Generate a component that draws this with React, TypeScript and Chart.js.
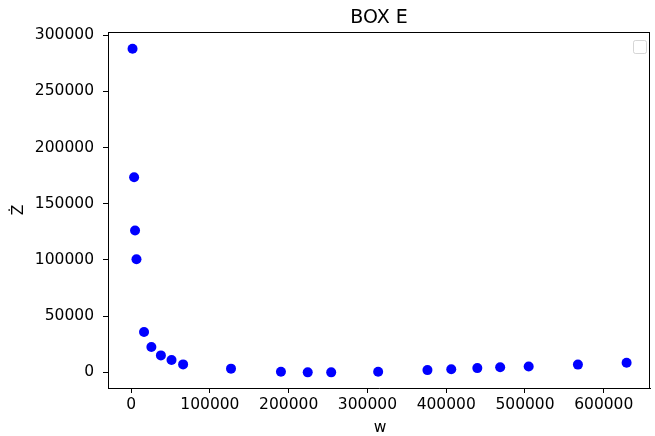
import React, { useEffect, useRef } from "react";
import { Chart, registerables } from "chart.js";

Chart.register(...registerables);

const titleText = "BOX E";
const xLabel = "w";
const yLabel = "Ż";

const wValues = [1800, 3800, 5000, 6800, 16400, 25700, 37800, 51300, 66000, 126800, 190200, 224200, 254000, 313600, 376200, 406400, 439500, 468500, 504700, 567200, 629000];
const zValues = [287800, 173600, 126100, 100600, 35900, 22500, 15100, 11000, 7100, 3300, 600, 0, 0, 600, 2000, 2700, 3800, 4500, 5300, 6900, 8600];

const xTicks = [0, 100000, 200000, 300000, 400000, 500000, 600000];
const yTicks = [0, 50000, 100000, 150000, 200000, 250000, 300000];

const FONT = "DejaVu Sans";

const decorPlugin = {
  id: "decor",
  afterDraw(chart: any) {
    const { ctx, chartArea } = chart;
    const { left, right, top, bottom } = chartArea;
    ctx.save();
    // top & right spines
    ctx.strokeStyle = "#000";
    ctx.lineWidth = 1;
    ctx.beginPath();
    ctx.moveTo(left, top + 0.5);
    ctx.lineTo(right, top + 0.5);
    ctx.moveTo(right - 0.5, top);
    ctx.lineTo(right - 0.5, bottom);
    ctx.stroke();
    // title
    ctx.fillStyle = "#000";
    ctx.font = `19px "${FONT}"`;
    ctx.textAlign = "center";
    ctx.textBaseline = "alphabetic";
    ctx.fillText(titleText, (left + right) / 2, 23);
    // x label
    ctx.font = `15.5px "${FONT}"`;
    ctx.fillText(xLabel, (left + right) / 2 + 1, 432);
    // empty legend frame
    const bx = 633.5, by = 40.5, bw = 13, bh = 13, r = 2;
    ctx.strokeStyle = "rgba(204,204,204,0.8)";
    ctx.fillStyle = "rgba(255,255,255,0.8)";
    ctx.beginPath();
    ctx.moveTo(bx + r, by);
    ctx.lineTo(bx + bw - r, by);
    ctx.quadraticCurveTo(bx + bw, by, bx + bw, by + r);
    ctx.lineTo(bx + bw, by + bh - r);
    ctx.quadraticCurveTo(bx + bw, by + bh, bx + bw - r, by + bh);
    ctx.lineTo(bx + r, by + bh);
    ctx.quadraticCurveTo(bx, by + bh, bx, by + bh - r);
    ctx.lineTo(bx, by + r);
    ctx.quadraticCurveTo(bx, by, bx + r, by);
    ctx.closePath();
    ctx.fill();
    ctx.stroke();
    ctx.restore();
  },
};

export default function App() {
  const ref = useRef<HTMLCanvasElement | null>(null);
  useEffect(() => {
    if (!ref.current) return;
    const chart = new Chart(ref.current, {
      type: "scatter",
      data: {
        datasets: [
          {
            data: wValues.map((w, i) => ({ x: w, y: zValues[i] })),
            backgroundColor: "#0000ff",
            borderWidth: 0,
            pointRadius: 5,
          },
        ],
      },
      options: {
        responsive: false,
        animation: false,
        layout: { padding: { top: 32, right: 1, left: 0, bottom: 0 } },
        plugins: { legend: { display: false }, title: { display: false }, tooltip: { enabled: false } },
        scales: {
          x: {
            type: "linear",
            min: -29350,
            max: 658700,
            afterBuildTicks: (s: any) => { s.ticks = xTicks.map((v) => ({ value: v })); },
            afterFit: (s: any) => { s.height = 48; },
            grid: { display: true, drawOnChartArea: false, drawTicks: true, tickLength: 5, tickColor: "#000", tickWidth: 1 },
            border: { display: true, color: "#000", width: 1 },
            ticks: { color: "#000", font: { family: FONT, size: 15.5 }, padding: 3, maxRotation: 0, autoSkip: false, callback: (v: any) => String(v) },
          },
          y: {
            type: "linear",
            min: -13900,
            max: 302700,
            afterBuildTicks: (s: any) => { s.ticks = yTicks.map((v) => ({ value: v })); },
            afterFit: (s: any) => { s.width = 108; },
            title: { display: true, text: yLabel, color: "#000", font: { family: FONT, size: 15.5 }, padding: { top: 10, bottom: 0 } },
            grid: { display: true, drawOnChartArea: false, drawTicks: true, tickLength: 5, tickColor: "#000", tickWidth: 1 },
            border: { display: true, color: "#000", width: 1 },
            ticks: { color: "#000", font: { family: FONT, size: 15.5 }, padding: 9, autoSkip: false, callback: (v: any) => String(v) },
          },
        },
      },
      plugins: [decorPlugin],
    });
    return () => chart.destroy();
  }, []);
  return (
    <canvas
      ref={ref}
      width={655}
      height={436}
      style={{ position: "absolute", left: 0, top: 0, width: 655, height: 436 }}
    />
  );
}
